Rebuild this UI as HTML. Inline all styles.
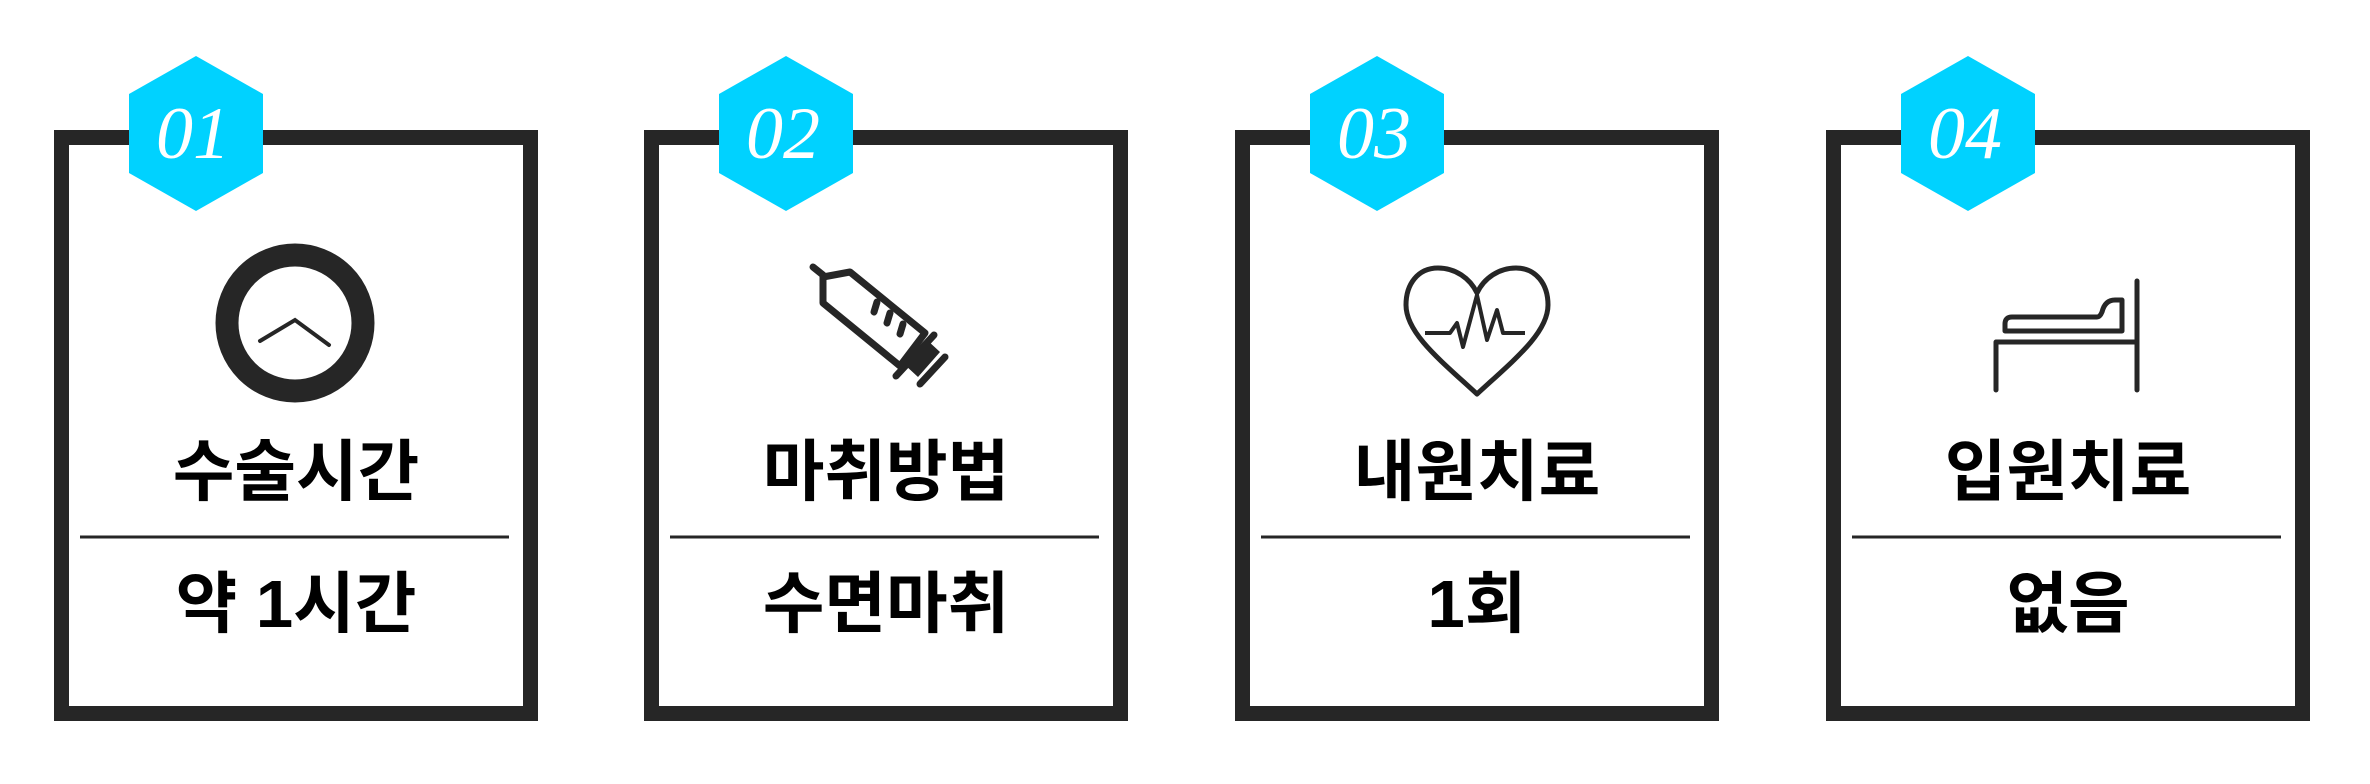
<!DOCTYPE html>
<html><head><meta charset="utf-8"><style>
html,body{margin:0;padding:0;background:#fff;}
body{width:2370px;height:784px;position:relative;overflow:hidden;font-family:"Liberation Sans","Noto Sans CJK KR",sans-serif;}
.card{position:absolute;top:130px;width:484px;height:591px;box-sizing:border-box;border:15px solid #262626;background:#fff;}
.t{position:absolute;left:0;width:100%;text-align:center;font-family:"Liberation Sans","Noto Sans CJK KR",sans-serif;font-weight:700;font-size:67px;line-height:67px;color:#000;}
svg.o{position:absolute;left:0;top:0;}
</style></head><body>
<div class="card" style="left:54px"></div>
<div class="card" style="left:644px"></div>
<div class="card" style="left:1235px"></div>
<div class="card" style="left:1826px"></div>

<svg class="o" width="2370" height="784" viewBox="0 0 2370 784">
<g fill="#00d2ff">
<polygon points="196,56 263,94 263,173 196,211 129,173 129,94"/>
<polygon points="786,56 853,94 853,173 786,211 719,173 719,94"/>
<polygon points="1377,56 1444,94 1444,173 1377,211 1310,173 1310,94"/>
<polygon points="1968,56 2035,94 2035,173 1968,211 1901,173 1901,94"/>
</g>
<g fill="#fff" font-family="Liberation Serif, serif" font-style="italic" font-size="74" text-anchor="middle">
<text x="193" y="158">01</text>
<text x="783" y="158">02</text>
<text x="1374" y="158">03</text>
<text x="1965" y="158">04</text>
</g>
<g stroke="#262626" stroke-width="3">
<line x1="80" y1="537" x2="509" y2="537"/>
<line x1="670" y1="537" x2="1099" y2="537"/>
<line x1="1261" y1="537" x2="1690" y2="537"/>
<line x1="1852" y1="537" x2="2281" y2="537"/>
</g>
<!-- clock -->
<circle cx="295" cy="323" r="68" fill="none" stroke="#262626" stroke-width="23"/>
<polyline points="260,341 295,320 329,345" fill="none" stroke="#262626" stroke-width="4" stroke-linecap="round"/>
<!-- syringe -->
<g fill="none" stroke="#262626" stroke-width="7" stroke-linejoin="round" stroke-linecap="round">
<line x1="813" y1="267" x2="823" y2="275"/>
<polyline points="823,277 850,272 925,333 900,366 823,303 823,277"/>
<line x1="877" y1="302" x2="874" y2="312"/>
<line x1="890" y1="313" x2="887" y2="323"/>
<line x1="903" y1="324" x2="900" y2="334"/>
<line x1="896" y1="376" x2="934" y2="335"/>
<line x1="920" y1="384" x2="945" y2="357"/>
</g>
<polygon points="905,365 927,340 940,352 918,377" fill="#262626"/>
<!-- heart -->
<path d="M1477,293 C1470,278 1455,268 1438,268 C1418,268 1406,284 1406,305 C1406,333 1440,360 1477,394 C1514,360 1548,333 1548,305 C1548,284 1536,268 1516,268 C1499,268 1484,278 1477,293 Z" fill="none" stroke="#262626" stroke-width="5" stroke-linejoin="round"/>
<polyline points="1425,333 1450,333 1457,323 1463,347 1477,295 1487,340 1497,310 1503,333 1525,333" fill="none" stroke="#262626" stroke-width="4" stroke-linejoin="round"/>
<!-- bed -->
<g fill="none" stroke="#262626" stroke-width="5" stroke-linecap="round" stroke-linejoin="round">
<line x1="2137" y1="281" x2="2137" y2="390"/>
<polyline points="1996,390 1996,342 2137,342"/>
<path d="M2005,331 L2005,324 Q2005,317 2012,317 L2097,317 Q2100,317 2102,312 Q2105,300 2115,300 L2122,300 L2122,331 Z"/>
</g>
</svg>

<div class="t" style="left:54px;width:484px;top:439px">수술시간</div>
<div class="t" style="left:54px;width:484px;top:571px">약 1시간</div>
<div class="t" style="left:644px;width:484px;top:439px">마취방법</div>
<div class="t" style="left:644px;width:484px;top:571px">수면마취</div>
<div class="t" style="left:1235px;width:484px;top:439px">내원치료</div>
<div class="t" style="left:1235px;width:484px;top:571px">1회</div>
<div class="t" style="left:1826px;width:484px;top:439px">입원치료</div>
<div class="t" style="left:1826px;width:484px;top:571px">없음</div>
</body></html>
